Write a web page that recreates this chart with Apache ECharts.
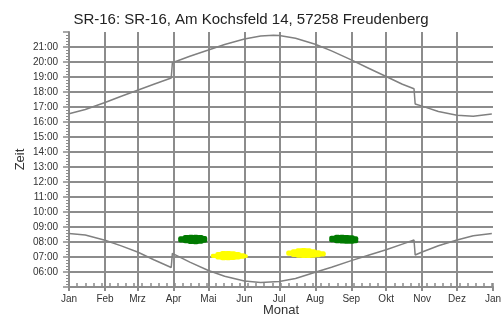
<!DOCTYPE html>
<html>
<head>
<meta charset="utf-8">
<script src="https://cdn.jsdelivr.net/npm/echarts@6/dist/echarts.min.js"></script>
<style>
  html, body { margin: 0; padding: 0; background: #fff; }
  #chart { width: 502px; height: 317px; }
</style>
</head>
<body>
<div id="chart"></div>
<script>
// Monatsanfänge (Tag im Jahr, 0 = 1. Jan)
const monthStarts = [0, 31, 59, 90, 120, 151, 181, 212, 243, 273, 304, 334, 365];
const monthNames = ['Jan', 'Feb', 'Mrz', 'Apr', 'Mai', 'Jun', 'Jul', 'Aug', 'Sep', 'Okt', 'Nov', 'Dez', 'Jan'];

// Sonnenuntergang [Tag, Stunde]
const sunset = [
  [0, 16.55], [14, 16.83], [31, 17.30], [45, 17.72], [59, 18.12], [73, 18.52],
  [88, 18.93], [89, 19.95], [104, 20.38], [120, 20.80], [134, 21.17], [151, 21.53],
  [165, 21.73], [176, 21.78], [181, 21.76], [195, 21.58], [212, 21.18], [226, 20.74],
  [243, 20.14], [257, 19.62], [273, 19.03], [287, 18.52], [297, 18.22], [298, 17.20],
  [304, 17.06], [318, 16.70], [334, 16.45], [348, 16.38], [364, 16.53]
];

// Sonnenaufgang [Tag, Stunde]
const sunrise = [
  [0, 8.56], [14, 8.46], [31, 8.12], [45, 7.74], [59, 7.33], [73, 6.82],
  [88, 6.30], [89, 7.24], [104, 6.66], [120, 6.10], [134, 5.72], [151, 5.40],
  [165, 5.30], [181, 5.36], [195, 5.57], [212, 5.98], [226, 6.32], [243, 6.76],
  [257, 7.10], [273, 7.48], [287, 7.86], [297, 8.13], [298, 7.13],
  [304, 7.33], [318, 7.75], [334, 8.13], [348, 8.42], [364, 8.56]
];

// Schattenzeiten [Tag, Beginn, Ende]
const shadowGreenSpring = [
  [97, 7.97, 8.39], [101, 7.92, 8.47], [105, 7.86, 8.49],
  [109, 7.85, 8.49], [113, 7.88, 8.47], [116, 7.95, 8.40]
];
const shadowYellowSpring = [
  [125, 6.93, 7.22], [129, 6.83, 7.33], [133, 6.78, 7.40], [137, 6.78, 7.40],
  [141, 6.80, 7.38], [145, 6.83, 7.33], [149, 6.88, 7.25], [151, 6.93, 7.18]
];
const shadowYellowSummer = [
  [190, 7.08, 7.43], [194, 7.00, 7.52], [198, 6.95, 7.58], [202, 6.93, 7.60],
  [206, 6.93, 7.58], [210, 6.95, 7.52], [214, 6.98, 7.45], [218, 7.03, 7.38]
];
const shadowGreenSummer = [
  [227, 7.98, 8.42], [231, 7.92, 8.49], [235, 7.90, 8.49],
  [239, 7.89, 8.47], [243, 7.89, 8.45], [246, 7.92, 8.38]
];

const gridColor = '#8c8c8c';
const textColor = '#333';
const fontFamily = '"Liberation Sans", Arial, sans-serif';

function fmtHour(v) {
  const h = Math.floor(v);
  return (h < 10 ? '0' : '') + h + ':00';
}

// ein Rechteck je Stützstelle, überlappend zu einem Fleck
function shadowSeries(data, color) {
  return {
    type: 'custom',
    xAxisIndex: 0,
    z: 5,
    data: data,
    renderItem: function (params, api) {
      const p1 = api.coord([api.value(0) - 3, api.value(2)]);
      const p2 = api.coord([api.value(0) + 3, api.value(1)]);
      return {
        type: 'rect',
        shape: { x: p1[0], y: p1[1], width: p2[0] - p1[0], height: p2[1] - p1[1], r: 2 },
        style: { fill: color }
      };
    }
  };
}

const chart = echarts.init(document.getElementById('chart'));

const option = {
  animation: false,
  backgroundColor: '#fff',
  textStyle: { fontFamily: fontFamily },
  title: {
    text: 'SR-16: SR-16, Am Kochsfeld 14, 57258 Freudenberg',
    left: 'center',
    top: 7,
    textStyle: { fontSize: 15, fontWeight: 'normal', color: '#222', fontFamily: fontFamily }
  },
  grid: { left: 69, right: 9, top: 32, bottom: 30, outerBoundsMode: 'none', containLabel: false },
  xAxis: [
    {
      type: 'value',
      min: 0,
      max: 365,
      name: 'Monat',
      nameLocation: 'middle',
      nameGap: 17,
      nameMoveOverlap: false,
      nameTextStyle: { fontSize: 13, color: textColor },
      axisLine: { lineStyle: { color: gridColor, width: 2 } },
      axisTick: { customValues: monthStarts, length: 4, lineStyle: { color: gridColor, width: 2 } },
      axisLabel: {
        customValues: monthStarts,
        margin: 7,
        fontSize: 10,
        color: textColor,
        formatter: function (v) { return monthNames[monthStarts.indexOf(v)]; }
      },
      splitLine: { show: true, showMaxLine: false, lineStyle: { color: gridColor, width: 2 } }
    },
    {
      type: 'value',
      min: 0,
      max: 365,
      interval: 7,
      position: 'bottom',
      axisLine: { show: false },
      axisTick: { inside: true, length: 4, lineStyle: { color: gridColor, width: 1.5 } },
      axisLabel: { show: false },
      splitLine: { show: false }
    }
  ],
  yAxis: {
    type: 'value',
    min: 5,
    max: 22,
    interval: 1,
    name: 'Zeit',
    nameLocation: 'middle',
    nameGap: 42,
    nameMoveOverlap: false,
    nameTextStyle: { fontSize: 13, color: textColor },
    axisLine: { show: true, lineStyle: { color: gridColor, width: 2 } },
    axisTick: { length: 6, lineStyle: { color: gridColor, width: 1.5 } },
    minorTick: { show: true, splitNumber: 5, length: 3, lineStyle: { color: gridColor, width: 1 } },
    axisLabel: {
      margin: 11,
      fontSize: 10,
      color: textColor,
      showMinLabel: false,
      showMaxLabel: false,
      formatter: fmtHour
    },
    splitLine: { show: true, showMinLine: false, showMaxLine: false, lineStyle: { color: gridColor, width: 2 } }
  },
  series: [
    {
      name: 'Sonnenuntergang',
      type: 'line',
      xAxisIndex: 0,
      data: sunset,
      showSymbol: false,
      lineStyle: { color: '#808080', width: 1.5 }
    },
    {
      name: 'Sonnenaufgang',
      type: 'line',
      xAxisIndex: 0,
      data: sunrise,
      showSymbol: false,
      lineStyle: { color: '#808080', width: 1.5 }
    },
    shadowSeries(shadowGreenSpring, '#007a00'),
    shadowSeries(shadowYellowSpring, '#ffff00'),
    shadowSeries(shadowYellowSummer, '#ffff00'),
    shadowSeries(shadowGreenSummer, '#007a00')
  ]
};

chart.setOption(option);
</script>
</body>
</html>
